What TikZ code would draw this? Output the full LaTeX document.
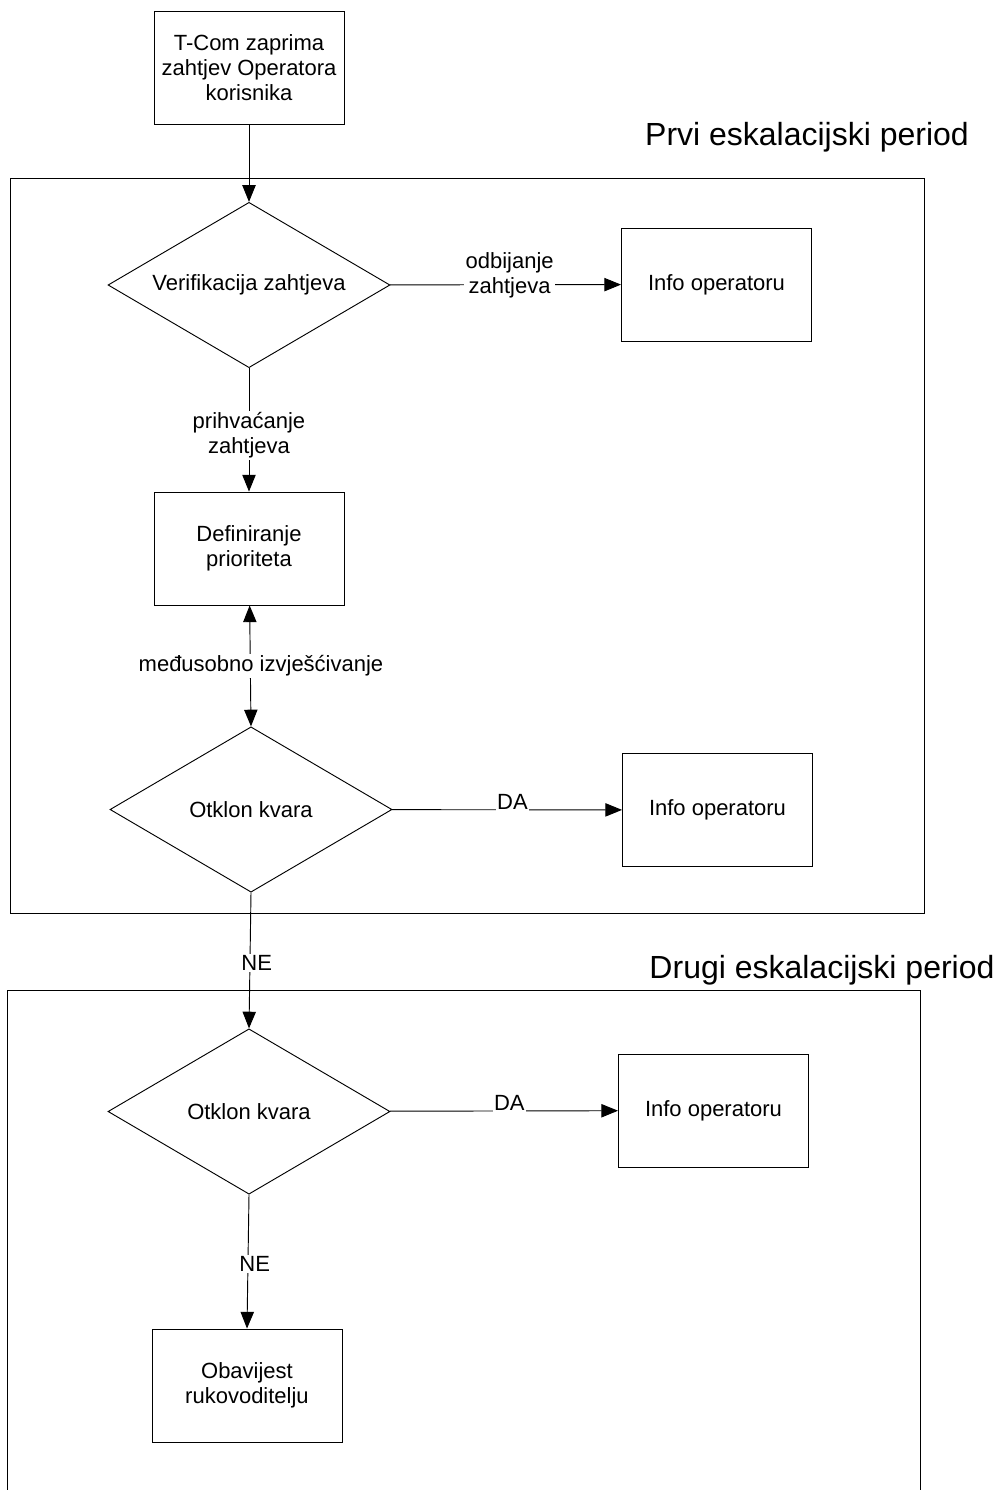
\documentclass[tikz,border=0pt]{standalone}
\usepackage{fontspec}
\setmainfont{Liberation Sans}
\usetikzlibrary{arrows.meta, shapes.geometric}

\begin{document}
\begin{tikzpicture}[x=0.75pt, y=-0.75pt, line width=0.7pt,
	>={Triangle[length=12.5pt, width=10pt]},
	every node/.style={font=\fontsize{16.5}{19}\selectfont},
	box/.style={draw, rectangle, align=center, minimum width=142.5pt, minimum height=84.75pt},
	dec/.style={draw, diamond, aspect=1.7, inner sep=0pt, minimum width=211.5pt, minimum height=124pt},
	lbl/.style={fill=white, inner sep=1pt, align=center},
	title/.style={font=\fontsize{24}{29}\selectfont}]
	\useasboundingbox (0,0) rectangle (1002,1490);
	% escalation periods
	\draw (10,178) rectangle (924,913);
	\draw (7,1490) -- (7,990) -- (920,990) -- (920,1490);
	\node[title] (P1) at (807,137) {Prvi eskalacijski period};
	\node[title] (P2) at (822,970) {Drugi eskalacijski period};
	% first period
	\node[box] (start) at (249,67.5) {T-Com zaprima\\zahtjev Operatora\\korisnika};
	\node[dec] (verif) at (249,285) {Verifikacija zahtjeva};
	\node[box] (info1) at (716.5,284.5) {Info operatoru};
	\node[box] (prior) at (249,548.5) {Definiranje\\prioriteta};
	\node[dec] (otklon1) at (251,809.5) {Otklon kvara};
	\node[box] (info2) at (717.5,810) {Info operatoru};
	% second period
	\node[dec] (otklon2) at (249,1111.5) {Otklon kvara};
	\node[box] (info3) at (713.5,1110.5) {Info operatoru};
	\node[box] (obav) at (247,1385.5) {Obavijest\\rukovoditelju};
	% connectors
	\draw[->] (start) -- (verif);
	\draw[->] (verif) -- (info1) node[lbl, midway, yshift=7pt, xshift=3pt] {odbijanje\\zahtjeva};
	\draw[->] (verif) -- (prior) node[lbl, midway, yshift=-4pt] {prihvaćanje\\zahtjeva};
	\draw[<->] (prior) -- (otklon1.north) node[lbl, midway, xshift=8pt] {međusobno izvješćivanje};
	\draw[->] (otklon1) -- (info2) node[lbl, midway, yshift=6pt, xshift=4pt] {DA};
	\draw[->] (otklon1.south) -- (otklon2.north) node[lbl, midway, xshift=5pt, yshift=-2pt] {NE};
	\draw[->] (otklon2) -- (info3) node[lbl, midway, yshift=6pt, xshift=4pt] {DA};
	\draw[->] (otklon2.south) -- (obav.north) node[lbl, midway, xshift=5pt, yshift=-2pt] {NE};
\end{tikzpicture}
\end{document}
